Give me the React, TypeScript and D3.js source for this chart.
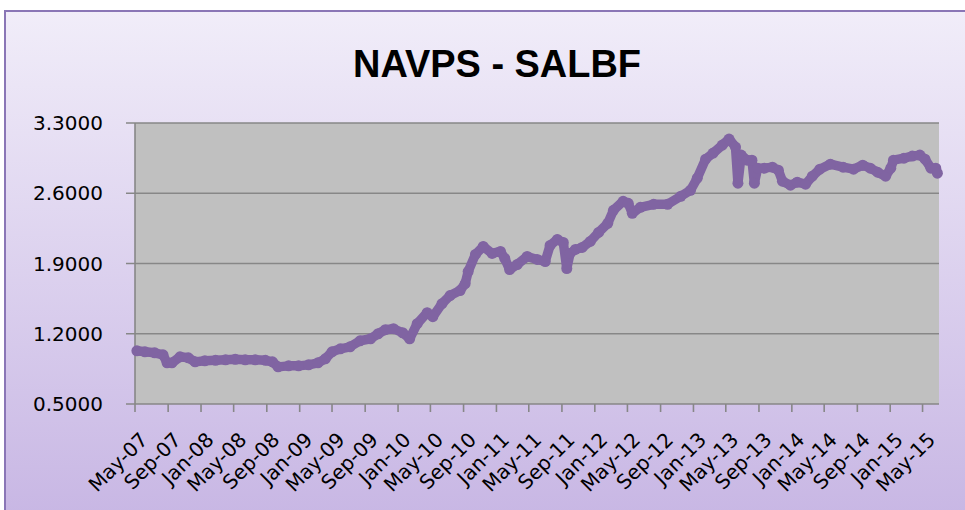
import * as d3 from 'd3'

const TITLE = 'NAVPS - SALBF'
const Y_TICKS = [0.5, 1.2, 1.9, 2.6, 3.3]
const X_START = '2007-05-01'
const X_END = '2015-07-01'

// NAVPS readings (date, value)
const DATES = [
  '2007-05-08', '2007-06-07', '2007-07-13', '2007-08-13', '2007-08-28', '2007-09-15', '2007-10-15',
  '2007-11-15', '2007-12-10', '2008-01-15', '2008-02-24', '2008-04-01', '2008-05-07', '2008-06-13',
  '2008-07-20', '2008-08-27', '2008-09-22', '2008-10-13', '2008-11-21', '2008-12-28', '2009-02-03',
  '2009-03-10', '2009-04-06', '2009-05-01', '2009-06-01', '2009-07-07', '2009-08-13', '2009-09-21',
  '2009-10-19', '2009-11-15', '2009-12-15', '2010-01-18', '2010-02-13', '2010-03-13', '2010-04-19',
  '2010-05-10', '2010-06-13', '2010-07-13', '2010-08-19', '2010-09-07', '2010-09-18', '2010-10-15',
  '2010-11-13', '2010-12-16', '2011-01-16', '2011-02-01', '2011-02-19', '2011-03-19', '2011-04-25',
  '2011-06-01', '2011-07-01', '2011-07-19', '2011-08-15', '2011-09-06', '2011-09-19', '2011-10-01',
  '2011-10-21', '2011-11-15', '2011-12-15', '2012-01-15', '2012-02-18', '2012-03-10', '2012-04-15',
  '2012-05-04', '2012-05-19', '2012-06-18', '2012-08-06', '2012-09-27', '2012-11-15', '2012-12-21',
  '2013-01-15', '2013-02-15', '2013-03-15', '2013-04-18', '2013-05-13', '2013-06-06', '2013-06-15',
  '2013-06-27', '2013-07-19', '2013-08-06', '2013-08-15', '2013-08-27', '2013-09-21', '2013-10-21',
  '2013-11-12', '2013-11-27', '2013-12-27', '2014-01-21', '2014-02-21', '2014-03-18', '2014-04-15',
  '2014-05-24', '2014-07-10', '2014-08-18', '2014-09-21', '2014-10-19', '2014-11-15', '2014-12-15',
  '2015-01-03', '2015-01-13', '2015-02-21', '2015-03-24', '2015-04-21', '2015-05-10', '2015-06-01',
  '2015-06-19', '2015-06-25',
]
const NAVPS = [
  1.03, 1.02, 1.01, 0.99, 0.91, 0.91, 0.97,
  0.96, 0.92, 0.93, 0.935, 0.94, 0.945, 0.94,
  0.94, 0.935, 0.92, 0.87, 0.88, 0.88, 0.89,
  0.91, 0.95, 1.02, 1.05, 1.07, 1.13, 1.15,
  1.2, 1.24, 1.25, 1.21, 1.15, 1.3, 1.41,
  1.37, 1.5, 1.58, 1.63, 1.7, 1.82, 1.99,
  2.07, 2.0, 2.02, 1.95, 1.84, 1.89, 1.97,
  1.94, 1.92, 2.08, 2.14, 2.11, 1.85, 2.0,
  2.04, 2.06, 2.12, 2.21, 2.3, 2.43, 2.52,
  2.5, 2.4, 2.46, 2.49, 2.49, 2.57, 2.63,
  2.75, 2.94, 3.0, 3.08, 3.14, 3.06, 2.7,
  2.98, 2.93, 2.93, 2.7, 2.85, 2.85, 2.86,
  2.83, 2.72, 2.68, 2.71, 2.69, 2.77, 2.84,
  2.89, 2.86, 2.84, 2.88, 2.85, 2.81, 2.77,
  2.85, 2.93, 2.95, 2.97, 2.98, 2.94, 2.85,
  2.85, 2.8,
]

const W = 965
const H = 510
const PLOT = { left: 135, right: 939, top: 123, bottom: 404 }
const PURPLE = '#8064A2'
const GRID = '#878787'
const FONT = '"DejaVu Sans", sans-serif'

export default function App() {
  const parse = d3.utcParse('%Y-%m-%d')
  const points = DATES.map((d, i) => ({ date: parse(d)!, value: NAVPS[i] }))

  const x = d3
    .scaleUtc()
    .domain([parse(X_START)!, parse(X_END)!])
    .range([PLOT.left, PLOT.right])
  const y = d3.scaleLinear().domain([0.5, 3.3]).range([PLOT.bottom, PLOT.top])

  const xTicks = d3.utcMonth
    .every(4)!
    .range(parse(X_START)!, d3.utcDay.offset(parse(X_END)!, -40))
  const fmt = d3.utcFormat('%b-%y')

  const line = d3
    .line<{ date: Date; value: number }>()
    .x((d) => x(d.date))
    .y((d) => y(d.value))

  return (
    <svg
      width={W}
      height={H}
      style={{ position: 'fixed', left: 0, top: 0, display: 'block' }}
    >
      <defs>
        <linearGradient id="bg" x1="0" y1="0" x2="0" y2="1">
          <stop offset="0%" stopColor="#F1EDF9" />
          <stop offset="100%" stopColor="#C6B4E3" />
        </linearGradient>
      </defs>
      <rect width={W} height={H} fill="#ffffff" />
      <rect x={5} y={11} width={1000} height={530} fill="url(#bg)" stroke="#8A76B6" strokeWidth={2} />

      <text
        x={497}
        y={77}
        textAnchor="middle"
        fontFamily='"Liberation Sans", Arial, sans-serif'
        fontWeight="bold"
        fontSize={39}
        textLength={288}
        lengthAdjust="spacingAndGlyphs"
        fill="#000"
      >
        {TITLE}
      </text>

      <rect
        x={PLOT.left}
        y={PLOT.top}
        width={PLOT.right - PLOT.left}
        height={PLOT.bottom - PLOT.top}
        fill="#C0C0C0"
      />

      {Y_TICKS.map((t) => (
        <g key={t}>
          <line x1={126} x2={PLOT.right} y1={y(t)} y2={y(t)} stroke={GRID} strokeWidth={1.6} />
          <text
            x={103}
            y={y(t)}
            dy="0.36em"
            textAnchor="end"
            fontFamily={FONT}
            fontSize={20}
            fill="#000"
          >
            {t.toFixed(4)}
          </text>
        </g>
      ))}

      <line x1={PLOT.left} x2={PLOT.left} y1={PLOT.top} y2={PLOT.bottom} stroke={GRID} strokeWidth={1.6} />

      {xTicks.map((t) => (
        <g key={+t}>
          <line x1={x(t)} x2={x(t)} y1={PLOT.bottom} y2={PLOT.bottom + 8} stroke={GRID} strokeWidth={1.6} />
          <text
            transform={`translate(${x(t) + 14},${PLOT.bottom + 37}) rotate(-45)`}
            textAnchor="end"
            fontFamily={FONT}
            fontSize={20}
            fill="#000"
          >
            {fmt(t)}
          </text>
        </g>
      ))}

      <path
        d={line(points) ?? ''}
        fill="none"
        stroke={PURPLE}
        strokeWidth={9.5}
        strokeLinejoin="round"
        strokeLinecap="round"
      />
      {points.map((p, i) => (
        <circle key={i} cx={x(p.date)} cy={y(p.value)} r={5.5} fill={PURPLE} />
      ))}
    </svg>
  )
}
